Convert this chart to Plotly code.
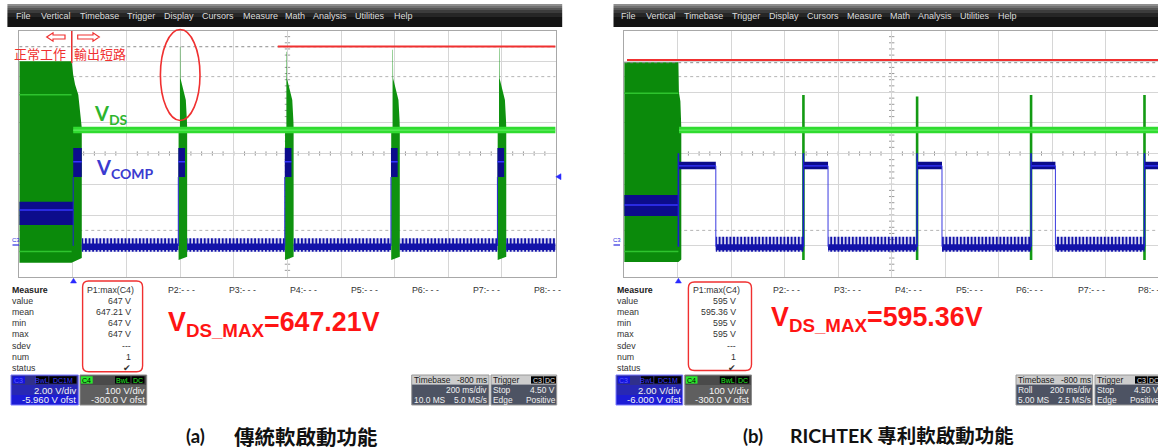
import plotly.graph_objects as go

W, H = 1158, 447

# ---------------- data ----------------
# time: 10 div x 200 ms/div -> 0..2 s ; C4 = VDS (100 V/div, -300 V ofst) ; C3 = VCOMP (2 V/div)
menu_items = ["File", "Vertical", "Timebase", "Trigger", "Display", "Cursors",
              "Measure", "Math", "Analysis", "Utilities", "Help"]
measure_rows = ["value", "mean", "min", "max", "sdev", "num", "status"]
param_labels = ["P2:- - -", "P3:- - -", "P4:- - -", "P5:- - -", "P6:- - -", "P7:- - -", "P8:- - -"]

# ----- panel (a): conventional soft start -----
a_vds_max = 647.21
a_measure_vals = ["647 V", "647.21 V", "647 V", "647 V", "---", "1", "\u2714"]
a_block_top_t = [0.000, 0.195, 0.201, 0.208, 0.220, 0.226, 0.233]
a_block_top_v = [600, 600, 556, 524, 491, 448, 383]
a_block_bot_t = [0.233, 0.195, 0.000]
a_block_bot_v = [-40, -55, -55]
a_block_trace_v = [491, -19]
a_burst_t = [0.599, 0.996, 1.392, 1.789]
a_burst_peak = [647, 631, 637, 642]
a_burst_decay_dt = [0.002, 0.008, 0.015, 0.022, 0.026, 0.027]
a_burst_decay_v = [545, 523, 490, 474, 409, 383]
a_burst_floor_dt = [-0.005, 0.027]
a_burst_floor_v = [-46, -36]
a_vds_off_start = 0.201
a_vds_off = [366, 376, 387]
a_comp_norm_end = 0.201
a_comp_norm = [1.31, 2.29, 2.82]
a_comp_high_start = [0.201, 0.593, 0.990, 1.386, 1.783]
a_comp_high_end = [0.233, 0.618, 1.015, 1.411, 1.808]
a_comp_high = [4.43, 5.43, 6.32]
a_comp_low_start = [0.233, 0.626, 1.023, 1.419, 1.816]
a_comp_low_end = [0.593, 0.990, 1.386, 1.783, 2.000]
a_comp_low = [-0.43, -0.05, 0.44]

# ----- panel (b): RICHTEK patented soft start -----
b_vds_max = 595.36
b_measure_vals = ["595 V", "595.36 V", "595 V", "595 V", "---", "1", "\u2714"]
b_block_top_t = [0.000, 0.2026, 0.2045, 0.2100, 0.2135]
b_block_top_v = [597, 597, 500, 470, 383]
b_block_bot_t = [0.2135, 0.2026, 0.000]
b_block_bot_v = [-45, -53, -53]
b_block_trace_v = [496, -19]
b_spike_t = [0.670, 1.095, 1.521, 1.945]
b_spike_peak = [490, 485, 490, 490]
b_spike_floor = -46
b_vds_off_start = 0.205
b_vds_off = [366, 376, 387]
b_comp_norm_end = 0.2026
b_comp_norm = [1.93, 2.65, 3.30]
b_comp_high_start = [0.2026, 0.670, 1.095, 1.521, 1.945]
b_comp_high_end = [0.3425, 0.762, 1.188, 1.612, 1.996]
b_comp_high = [4.98, 5.20, 5.47]
b_comp_edge_peak = 6.01
b_comp_low_start = [0.3425, 0.762, 1.188, 1.612]
b_comp_low_end = [0.670, 1.095, 1.521, 1.945]
b_comp_low = [-0.39, -0.06, 0.59]

# ---------------- styling ----------------
UI = "Liberation Sans, Arial, sans-serif"
G_DARK = "#0b8a0b"
G_BURST = "#0f920f"
G_LINE = "#2ec42e"
G_LIME = "#30dc30"
G_PALE = "#6af06a"
B_NAVY = "#0c0c8c"
B_BRIGHT = "#3434ff"
B_MID = "#1212a8"
GRID = "#d6d6d6"
BORDER = "#a8a8a8"
RED = "#f03030"

menu_offsets = [0, 25.2, 63.7, 111.2, 148.2, 186.2, 226.7, 269.6, 297.4, 339.6, 377.8]


def X(x):
    return x / W


def Y(y):
    return 1 - y / H


fig = go.Figure()
shapes = []
ann = []


def poly(xs, ys, color, xa, ya, pattern=None):
    kw = {}
    if pattern is not None:
        kw["fillpattern"] = pattern
    fig.add_trace(go.Scatter(x=xs, y=ys, fill="toself", fillcolor=color, mode="lines",
                             line=dict(width=0, color=color), hoverinfo="skip",
                             showlegend=False, xaxis=xa, yaxis=ya, **kw))


def line(xs, ys, color, width, xa, ya, dash="solid"):
    fig.add_trace(go.Scatter(x=xs, y=ys, mode="lines", line=dict(width=width, color=color, dash=dash),
                             hoverinfo="skip", showlegend=False, xaxis=xa, yaxis=ya))


def band(t0, t1, lo, hi, color, xa, ya, pattern=None):
    poly([t0, t1, t1, t0, t0], [lo, lo, hi, hi, lo], color, xa, ya, pattern)


def rect(x0, y0, x1, y1, fill, line_color=None, lw=0):
    shapes.append(dict(type="rect", xref="paper", yref="paper", x0=X(x0), x1=X(x1),
                       y0=Y(y1), y1=Y(y0), fillcolor=fill,
                       line=dict(color=line_color or fill, width=lw), layer="above"))


def pshape(path, fill="rgba(0,0,0,0)", lc=RED, lw=1.2):
    shapes.append(dict(type="path", xref="paper", yref="paper", path=path,
                       fillcolor=fill, line=dict(color=lc, width=lw), layer="above"))


def P(x, y):
    return f"{X(x):.5f},{Y(y):.5f}"


def text(x, y, s, size=9, color="#222", xa="left", family=UI, ya="middle"):
    ann.append(dict(xref="paper", yref="paper", x=X(x), y=Y(y), text=s, showarrow=False,
                    xanchor=xa, yanchor=ya, borderpad=0,
                    font=dict(size=size, color=color, family=family)))


def rrect(x0, y0, x1, y1, r):
    return (f"M {P(x0 + r, y0)} L {P(x1 - r, y0)} Q {P(x1, y0)} {P(x1, y0 + r)} "
            f"L {P(x1, y1 - r)} Q {P(x1, y1)} {P(x1 - r, y1)} L {P(x0 + r, y1)} "
            f"Q {P(x0, y1)} {P(x0, y1 - r)} L {P(x0, y0 + r)} Q {P(x0, y0)} {P(x0 + r, y0)} Z")


pat = dict(shape="|", size=3.6, solidity=0.6, fgcolor=B_MID, bgcolor="rgba(255,255,255,0)",
           fillmode="replace")

# ======================= panel (a) traces =======================
xa, ya, yc = "x", "y", "y3"
poly(a_block_top_t + a_block_bot_t, a_block_top_v + a_block_bot_v, G_DARK, xa, ya)
for v in a_block_trace_v:
    line([0, a_block_top_t[1]], [v, v], G_LINE, 1.5, xa, ya)
for t, pk in zip(a_burst_t, a_burst_peak):
    xs = ([t + a_burst_floor_dt[0], t, t, t + 0.0015] + [t + d for d in a_burst_decay_dt]
          + [t + a_burst_floor_dt[1], t + a_burst_floor_dt[0]])
    ys = ([a_vds_off[1], a_vds_off[1], pk, pk] + a_burst_decay_v
          + [a_burst_floor_v[1], a_burst_floor_v[0]])
    poly(xs, ys, G_BURST, xa, ya)
band(a_vds_off_start, 2.0, a_vds_off[0], a_vds_off[2], G_LIME, xa, ya)
line([a_vds_off_start, 2.0], [a_vds_off[1], a_vds_off[1]], G_PALE, 1, xa, ya)
line([0, 2.0], [a_vds_max, a_vds_max], "#8c8c8c", 1, xa, ya, dash="dot")

# VCOMP (a)
band(0, a_comp_norm_end, a_comp_norm[0], a_comp_norm[2], B_NAVY, xa, yc)
line([0, a_comp_norm_end], [a_comp_norm[1]] * 2, B_BRIGHT, 1.5, xa, yc)
for s, e in zip(a_comp_low_start, a_comp_low_end):
    band(s, e, a_comp_low[0], a_comp_low[2], "rgba(0,0,0,0)", xa, yc, pattern=pat)
    band(s, e, a_comp_low[0] + 0.12, a_comp_low[1] + 0.15, B_MID, xa, yc)
for s, e in zip(a_comp_high_start, a_comp_high_end):
    band(s, e, a_comp_high[0], a_comp_high[2], B_NAVY, xa, yc)
    line([s, e], [a_comp_high[1]] * 2, B_BRIGHT, 1.5, xa, yc)
    line([s, s], [a_comp_low[1], a_comp_high[0]], "#2020d0", 1, xa, yc)

# ======================= panel (b) traces =======================
xa, ya, yc = "x2", "y2", "y4"
poly(b_block_top_t + b_block_bot_t, b_block_top_v + b_block_bot_v, G_DARK, xa, ya)
for v in b_block_trace_v:
    line([0, b_block_top_t[1]], [v, v], G_LINE, 1.5, xa, ya)
sx, sy = [], []
for t, pk in zip(b_spike_t, b_spike_peak):
    sx += [t, t, None]
    sy += [b_spike_floor, pk, None]
line(sx, sy, "#139a13", 2.6, xa, ya)
band(b_vds_off_start, 2.0, b_vds_off[0], b_vds_off[2], G_LIME, xa, ya)
line([b_vds_off_start, 2.0], [b_vds_off[1], b_vds_off[1]], G_PALE, 1, xa, ya)
line([0, 2.0], [b_vds_max, b_vds_max], "#8c8c8c", 1, xa, ya, dash="dot")

band(0, b_comp_norm_end, b_comp_norm[0], b_comp_norm[2], B_NAVY, xa, yc)
line([0, b_comp_norm_end], [b_comp_norm[1]] * 2, B_BRIGHT, 1.5, xa, yc)
for s, e in zip(b_comp_low_start, b_comp_low_end):
    band(s, e, b_comp_low[0], b_comp_low[2], "rgba(0,0,0,0)", xa, yc, pattern=pat)
    band(s, e, b_comp_low[0] + 0.1, b_comp_low[1] + 0.15, B_MID, xa, yc)
for s, e in zip(b_comp_high_start, b_comp_high_end):
    band(s, e, b_comp_high[0], b_comp_high[2], B_NAVY, xa, yc)
    line([s, e], [b_comp_high[1]] * 2, B_BRIGHT, 1.2, xa, yc)
    line([s, s], [b_comp_low[1], b_comp_edge_peak], "#1c1cd0", 1.6, xa, yc)
for e in b_comp_high_end[:-1]:
    line([e, e], [b_comp_high[1], b_comp_low[1]], "#3a3ae0", 1, xa, yc)

# ======================= grid decorations =======================
for xr, yr, tmax in (("x", "y", 2.0), ("x2", "y2", 2.0)):
    for k in range(1, 50):
        t = k * 0.04
        shapes.append(dict(type="line", xref=xr, yref=yr, x0=t, x1=t, y0=293, y1=307,
                           line=dict(color="#9a9a9a", width=1), layer="below"))
    for k in range(1, 40):
        v = -100 + k * 20
        shapes.append(dict(type="line", xref=xr, yref=yr, x0=0.99, x1=1.01, y0=v, y1=v,
                           line=dict(color="#9a9a9a", width=1), layer="below"))
    for v in (550, 50):
        shapes.append(dict(type="line", xref=xr, yref=yr, x0=0, x1=tmax, y0=v, y1=v,
                           line=dict(color="#b4b4b4", width=1, dash="dot"), layer="below"))

# red annotations drawn by the author
shapes.append(dict(type="line", xref="x", yref="y", x0=0.964, x1=2.0, y0=648, y1=648,
                   line=dict(color=RED, width=2), layer="above"))
shapes.append(dict(type="line", xref="x2", yref="y2", x0=0.0105, x1=2.0, y0=604, y1=604,
                   line=dict(color=RED, width=2), layer="above"))
shapes.append(dict(type="circle", xref="paper", yref="paper", x0=X(160.4), x1=X(200),
                   y0=Y(120.5), y1=Y(29.5), line=dict(color=RED, width=1.6), layer="above"))
shapes.append(dict(type="line", xref="paper", yref="paper", x0=X(71.7), x1=X(71.7),
                   y0=Y(63), y1=Y(31), line=dict(color=RED, width=1.4), layer="above"))
pshape(f"M {P(46.7,37)} L {P(53,32.8)} L {P(53,35)} L {P(65,35)} L {P(65,39)} L {P(53,39)} L {P(53,41.2)} Z",
       fill="white", lw=1.2)
pshape(f"M {P(99.3,37)} L {P(93,32.8)} L {P(93,35)} L {P(77.7,35)} L {P(77.7,39)} L {P(93,39)} L {P(93,41.2)} Z",
       fill="white", lw=1.2)
text(40, 53, "正常工作", 13, RED, "center", "Noto Sans CJK TC")
text(99.7, 53, "輸出短路", 13, RED, "center", "Noto Sans CJK TC")

# trace labels
text(93, 114, "<b>V<sub>DS</sub></b>", 20, "#2db52d", "left", "Lato, sans-serif")
text(94.5, 168, "<b>V<sub>COMP</sub></b>", 20, "#3b3bd0", "left", "Lato, sans-serif")

# markers
for gx, cx in ((19.3, 15.5), (624.2, 616.5)):
    text(cx, 239.5, "C3", 6, "#2a2ae0", "center")
    shapes.append(dict(type="line", xref="paper", yref="paper", x0=X(cx - 3), x1=X(cx + 3.5),
                       y0=Y(245), y1=Y(245), line=dict(color="#2a2ae0", width=1.2), layer="above"))
pshape(f"M {P(555.8,176.7)} L {P(561,173.7)} L {P(561,179.7)} Z", fill="#2a2aff", lc="#2a2aff", lw=0.5)
for tx in (73.5, 678.4):
    pshape(f"M {P(tx,278.3)} L {P(tx-3,283)} L {P(tx+3,283)} Z", fill="#2a2aff", lc="#2a2aff", lw=0.5)

# ======================= scope chrome =======================
menu_strips = [(0, 2, "#8e8e8e"), (2, 4, "#707070"), (4, 6, "#565656"), (6, 9, "#3c3c3c"),
               (9, 13, "#262626"), (13, 23, "#141414")]


def menubar(x0, x1, tx0):
    for a, b, c in menu_strips:
        rect(x0, 4 + a, x1, 4 + b, c)
    for name, off in zip(menu_items, menu_offsets):
        text(tx0 + off, 15.7, name, 9, "#dcdcdc", "left")


menubar(7.4, 562.2, 14.8)
menubar(613.5, 1165, 619.6)


def measure_table(lx, p1x, valx, rows_y, vals, rr):
    text(lx, 289.8, "<b>Measure</b>", 8.8, "#222")
    text(p1x, 289.8, "P1:max(C4)", 8.8, "#333")
    for name, val, yy in zip(measure_rows, vals, rows_y):
        text(lx, yy, name, 8.8, "#333")
        text(valx, yy, val, 8.8, "#333", "right")
    pshape(rrect(*rr, 6), lc=RED, lw=1.4)


rows_a = [301, 312.2, 323.3, 334.3, 345.5, 356.6, 367.6]
measure_table(11.1, 86.3, 131.8, rows_a, a_measure_vals, (82.6, 281, 142.6, 371.7))
measure_table(616, 692, 736.8, rows_a, b_measure_vals, (688.4, 282, 751.5, 370.5))

for lab, xa_, xb_ in zip(param_labels, [167.4, 228, 288.9, 350, 411, 471.5, 532.6],
                         [772, 833.4, 894, 954.6, 1015.2, 1076.5, 1137.4]):
    text(xa_, 289.8, lab, 8.8, "#333")
    text(xb_, 289.8, lab, 8.8, "#333")

text(166.7, 323.5, f"<b>V<sub>DS_MAX</sub>={a_vds_max:.2f}V</b>", 26.8, "#ff1414", "left", "Liberation Sans, Arial")
text(770.3, 318.5, f"<b>V<sub>DS_MAX</sub>={b_vds_max:.2f}V</b>", 26.8, "#ff1414", "left", "Liberation Sans, Arial")


def tag(x0, x1, s, bg, fg):
    rect(x0, 376.3, x1, 383.6, bg)
    text((x0 + x1) / 2, 380, s, 7, fg, "center")


def c3_box(x0, x1, ofs):
    rect(x0, 375, x1, 385, "#30308c")
    rect(x0, 385, x1, 395, "#2828b4")
    rect(x0, 395, x1, 405, "#1c1cd6")
    shapes.append(dict(type="rect", xref="paper", yref="paper", x0=X(x0), x1=X(x1), y0=Y(405), y1=Y(375),
                       line=dict(color="#7a7aff", width=1), layer="above"))
    tag(x0 + 1.7, x0 + 14, "C3", "#1414e0", "#6060ff")
    tag(x0 + 25, x0 + 37.3, "BwL", "#000", "#3c3cff")
    tag(x0 + 38.3, x1 - 1.8, "DC1M", "#000", "#3c3cff")
    text(x1 - 1.5, 390.3, "2.00 V/div", 9.5, "#f4f4f4", "right")
    text(x1 - 1.2, 399.6, ofs, 9.5, "#f4f4f4", "right")


def c4_box(x0, x1):
    rect(x0, 375, x1, 385, "#4a4a4a")
    rect(x0, 385, x1, 405, "#5f5f5f")
    shapes.append(dict(type="rect", xref="paper", yref="paper", x0=X(x0), x1=X(x1), y0=Y(405), y1=Y(375),
                       line=dict(color="#8c8c8c", width=1), layer="above"))
    tag(x0 + 1, x0 + 12.7, "C4", "#2bea2b", "#000")
    tag(x1 - 31.7, x1 - 16.2, "BwL", "#000", "#2bea2b")
    tag(x1 - 15.2, x1 - 2.2, "DC", "#000", "#2bea2b")
    text(x1 - 1.2, 390.3, "100 V/div", 9.5, "#f4f4f4", "right")
    text(x1 - 1.2, 399.6, "-300.0 V ofst", 9.5, "#f4f4f4", "right")


def dark_box(x0, x1):
    rect(x0, 375, x1, 384.5, "#cdcdcd")
    rect(x0, 384.5, x1, 405, "#4d5363")
    shapes.append(dict(type="rect", xref="paper", yref="paper", x0=X(x0), x1=X(x1), y0=Y(405), y1=Y(375),
                       line=dict(color="#9a9a9a", width=1), layer="above"))


c3_box(11, 78.3, "-5.960 V ofst")
c4_box(80, 146.7)
c3_box(616, 682.7, "-6.000 V ofst")
c4_box(684.8, 751.5)

TB = 8.4


def timebase(x0, x1, mode, l3a, l3b):
    dark_box(x0, x1)
    text(x0 + 1.2, 379.8, "Timebase", TB, "#1a1a1a")
    text(x1 - 0.6, 379.8, "-800 ms", TB, "#1a1a1a", "right")
    if mode:
        text(x0 + 1.2, 390.4, mode, TB, "#f0f0f0")
    text(x1 - 0.6, 390.4, "200 ms/div", TB, "#f0f0f0", "right")
    text(x0 + 1.2, 399.6, l3a, TB, "#f0f0f0")
    text(x1 - 0.6, 399.6, l3b, TB, "#f0f0f0", "right")


def trigger(x0, x1):
    dark_box(x0, x1)
    text(x0 + 1.2, 379.8, "Trigger", TB, "#1a1a1a")
    tag(x0 + 40, x0 + 52, "C3", "#000", "#e0e0e0")
    tag(x0 + 52.5, x0 + 65, "DC", "#000", "#e0e0e0")
    text(x0 + 1.2, 390.4, "Stop", TB, "#f0f0f0")
    text(x0 + 65, 390.4, "4.50 V", TB, "#f0f0f0", "right")
    text(x0 + 1.2, 399.6, "Edge", TB, "#f0f0f0")
    text(x0 + 65.5, 399.6, "Positive", TB, "#f0f0f0", "right")


timebase(411.7, 489, None, "10.0 MS", "5.0 MS/s")
trigger(491, 556.7)
timebase(1016, 1092.7, "Roll", "5.00 MS", "2.5 MS/s")
trigger(1095, 1160.7)

# captions
text(185.2, 435.5, "<b>(a)</b>", 18.5, "#111", "left", "Lato, sans-serif")
text(233, 435.5, "<b>傳統軟啟動功能</b>", 20.5, "#111", "left", "Noto Sans CJK TC")
text(742, 435.5, "<b>(b)</b>", 18.5, "#111", "left", "Lato, sans-serif")
text(788.9, 435.5, "<b>RICHTEK 專利軟啟動功能</b>", 19.5, "#111", "left", "Lato, Noto Sans CJK TC")

# ======================= axes =======================
ydom = [Y(276.5), Y(30.5)]
common_x = dict(dtick=0.2, tick0=0, showgrid=True, gridcolor=GRID, gridwidth=1, showline=True,
                linecolor=BORDER, mirror=True, showticklabels=False, ticks="", zeroline=False,
                fixedrange=True)
common_y = dict(domain=ydom, range=[-100, 700], dtick=100, tick0=-100, showgrid=True, gridcolor=GRID,
                gridwidth=1, showline=True, linecolor=BORDER, mirror=True, showticklabels=False,
                ticks="", zeroline=False, fixedrange=True)
hidden = dict(showgrid=False, showticklabels=False, zeroline=False, showline=False, ticks="",
              fixedrange=True)

fig.update_layout(
    width=W, height=H, margin=dict(l=0, r=0, t=0, b=0),
    paper_bgcolor="white", plot_bgcolor="white", showlegend=False,
    xaxis=dict(domain=[X(19.3), X(555.6)], range=[0, 2.0], anchor="y", **common_x),
    yaxis=dict(anchor="x", **common_y),
    xaxis2=dict(domain=[X(624.2), 1.0], range=[0, (W - 624.2) / 267.5], anchor="y2", **common_x),
    yaxis2=dict(anchor="x2", **common_y),
    yaxis3=dict(overlaying="y", anchor="x", range=[5.96 - 8, 5.96 + 8], **hidden),
    yaxis4=dict(overlaying="y2", anchor="x2", range=[6.0 - 8, 6.0 + 8], **hidden),
    shapes=shapes, annotations=ann,
)

fig.write_html("out.html")
